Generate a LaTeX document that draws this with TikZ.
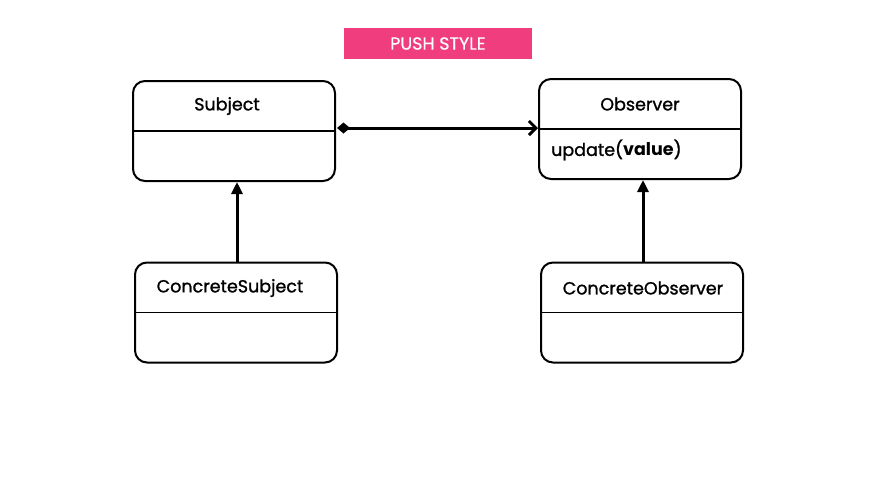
\documentclass[tikz,border=0pt]{standalone}
\usepackage{fontspec}
\setmainfont{Poppins}
\newfontfamily\medfont{Poppins}[FakeBold=1.2]
\newfontfamily\hdrfont{Poppins}[FakeBold=0.5]
\usetikzlibrary{arrows.meta}
\definecolor{hdrpink}{HTML}{EF3D7E}
\tikzset{
  umlbox/.style={draw=black, line width=2pt, rounded corners=12pt, minimum width=202pt, minimum height=100pt, inner sep=0pt, fill=white},
  divider/.style={draw=black, line width=1.6pt},
  lbl/.style={font=\medfont\fontsize{17.5}{20}\selectfont, inner sep=0pt, anchor=center},
  conn/.style={draw=black, line width=3pt},
}
\begin{document}
\begin{tikzpicture}[x=1pt,y=-1pt]
\useasboundingbox (0,0) rectangle (876,499);
\fill[white] (0,0) rectangle (876,499);
% header
\node[fill=hdrpink, minimum width=188pt, minimum height=31pt, inner sep=0pt, text=white, font=\hdrfont\fontsize{17.5}{20}\selectfont] (hdr) at (438,43.5) {PUSH STYLE};
% boxes
\node[umlbox] (subj) at (234,131) {};
\node[umlbox] (obs) at (640,129) {};
\node[umlbox] (csubj) at (236,312.5) {};
\node[umlbox] (cobs) at (642,312.5) {};
\draw[divider] (subj.west) -- (subj.east);
\draw[divider] (obs.west) -- (obs.east);
\draw[divider] (csubj.west) -- (csubj.east);
\draw[divider] (cobs.west) -- (cobs.east);
% labels
\node[lbl] (tsubj) at (227,106) {Subject};
\node[lbl] (tobs) at (640,104) {Observer};
\node[lbl, anchor=west] (tupd) at (551,150) {update({\fontspec{Poppins}\bfseries value})};
\node[lbl] (tcsubj) at (230,288) {ConcreteSubject};
\node[lbl] (tcobs) at (643,288) {ConcreteObserver};
% connectors
\coordinate (aS) at (337,128);
\coordinate (aE) at (538,128);
\draw[conn, {Diamond[length=13pt,width=11pt]}-{Straight Barb[length=7pt,width=14pt,line width=3pt]}] (aS) -- (aE);
\draw[conn, -{Triangle[length=12pt,width=11pt]}] (237,263) -- (237,182);
\draw[conn, -{Triangle[length=12pt,width=11pt]}] (643,263) -- (643,180);
\end{tikzpicture}
\end{document}
